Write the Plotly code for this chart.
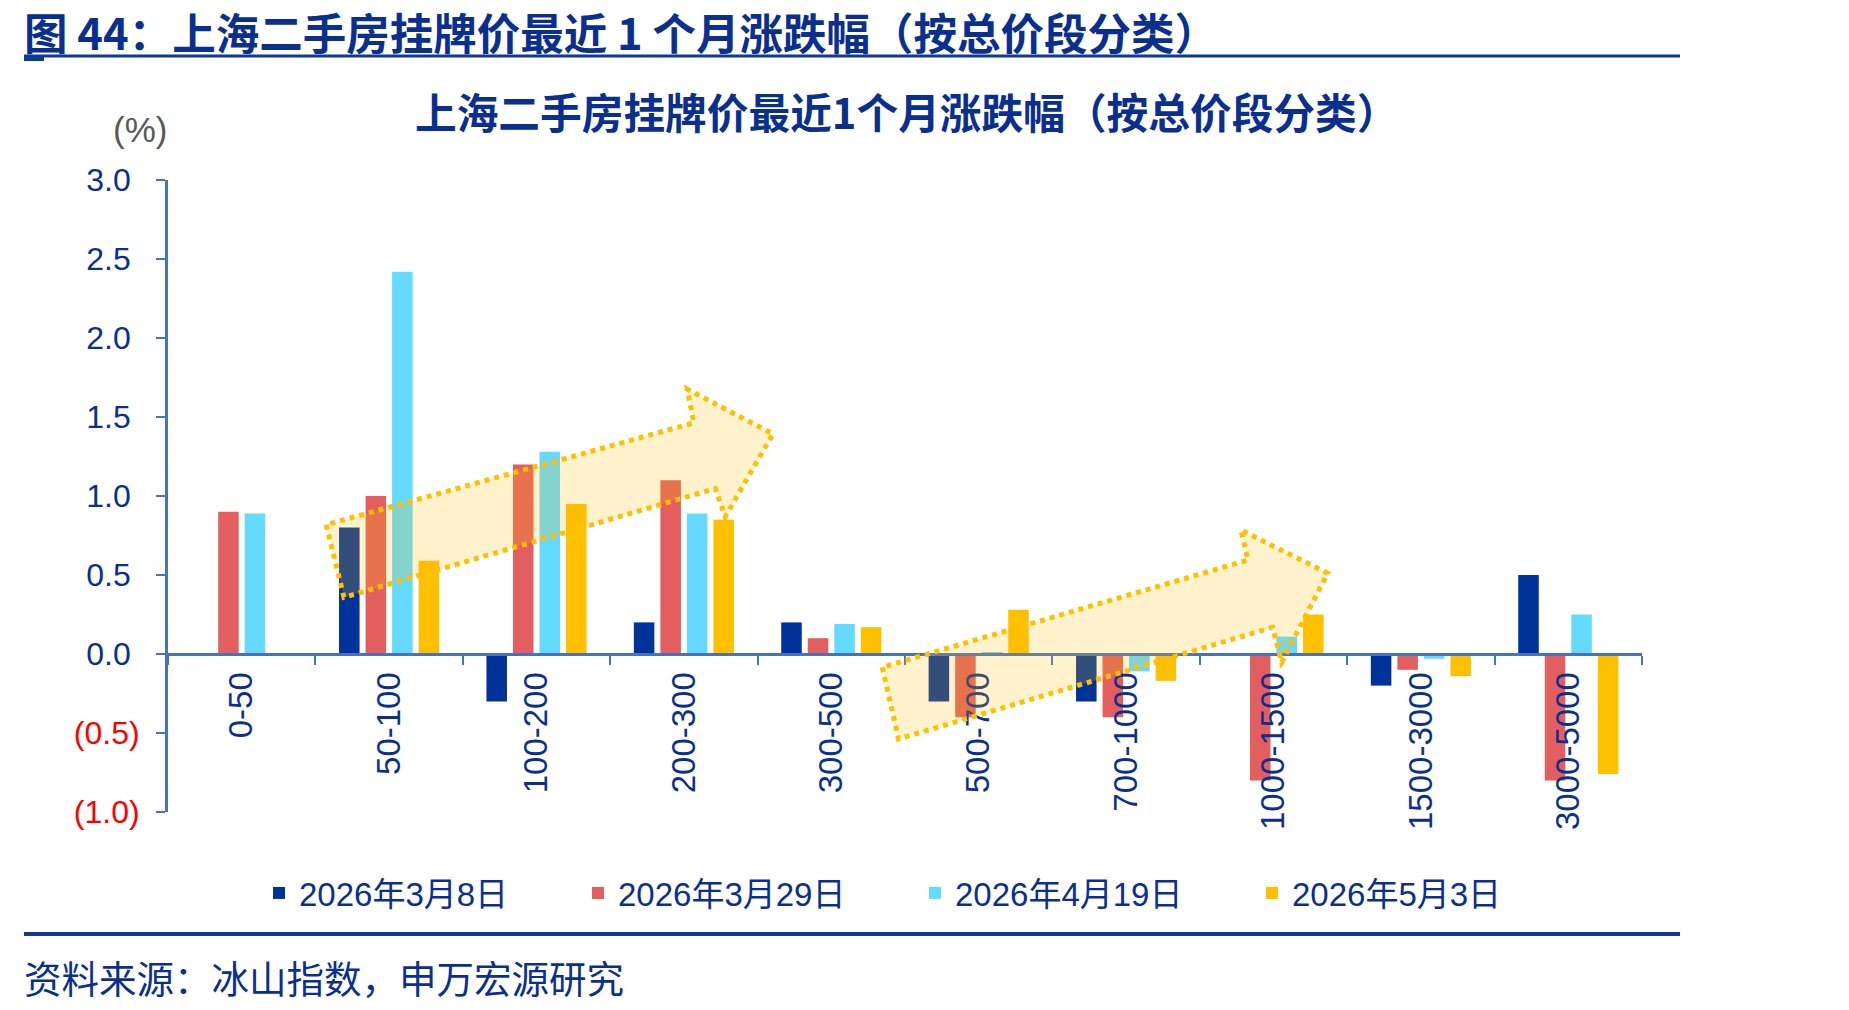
import plotly.graph_objects as go

# ---------------- data ----------------
categories = ["0-50", "50-100", "100-200", "200-300", "300-500",
              "500-700", "700-1000", "1000-1500", "1500-3000", "3000-5000"]
series_names = ["2026年3月8日", "2026年3月29日", "2026年4月19日", "2026年5月3日"]
s_mar08 = [None, 0.80, -0.30, 0.20, 0.20, -0.30, -0.30, None, -0.20, 0.50]
s_mar29 = [0.90, 1.00, 1.20, 1.10, 0.10, -0.40, -0.40, -0.80, -0.10, -0.80]
s_apr19 = [0.89, 2.42, 1.28, 0.89, 0.19, 0.01, -0.11, 0.11, -0.03, 0.25]
s_may03 = [None, 0.59, 0.95, 0.85, 0.17, 0.28, -0.17, 0.25, -0.14, -0.76]
y_tickvals = [-1.0, -0.5, 0.0, 0.5, 1.0, 1.5, 2.0, 2.5, 3.0]
y_ticklabels = ["(1.0)", "(0.5)", "0.0", "0.5", "1.0", "1.5", "2.0", "2.5", "3.0"]

title_main = "图 44：上海二手房挂牌价最近 1 个月涨跌幅（按总价段分类）"
title_chart = "上海二手房挂牌价最近1个月涨跌幅（按总价段分类）"
source_text = "资料来源：冰山指数，申万宏源研究"
unit_text = "(%)"

# ---------------- style ----------------
W, H = 1849, 1010
ML, MR, MT, MB = 168, 207, 180, 198
PW, PH = W - ML - MR, H - MT - MB
FONT = "Liberation Sans, Arial, Noto Sans CJK SC, sans-serif"
CJK = "Noto Sans CJK SC, sans-serif"
DARK = "#0A2F8F"
AXIS = "#4472C4"
colors = ["#003399", "#E35F5F", "#66D9FF", "#FFC000"]
legend_left_px = [259, 578, 915, 1252]


def px_x(p):
    return (p - ML) / PW


def px_y(p):
    return (H - MB - p) / PH


fig = go.Figure()
legend_ids = ["legend", "legend2", "legend3", "legend4"]
for name, vals, c, lid in zip(series_names, [s_mar08, s_mar29, s_apr19, s_may03], colors, legend_ids):
    fig.add_trace(go.Bar(x=categories, y=vals, name=name, legend=lid,
                         marker=dict(color=c, line=dict(width=0))))

ticktext = [
    f"<span style='color:#FF0000'>{t}</span>" if v < 0 else t + "\u00a0"
    for v, t in zip(y_tickvals, y_ticklabels)
]

# arrow decorations (category index / value coordinates)
arrow1 = [(0.573, 0.818), (0.694, 0.359), (3.213, 1.047), (3.28, 0.869),
          (3.604, 1.393), (3.023, 1.676), (3.067, 1.463)]
arrow2 = [(4.346, -0.084), (4.456, -0.538), (6.993, 0.169), (7.055, -0.053),
          (7.368, 0.511), (6.779, 0.785), (6.827, 0.595)]


def path_of(pts):
    return "M " + " L ".join(f"{x},{y}" for x, y in pts) + " Z"


shapes = []
for pts in (arrow1, arrow2):
    shapes.append(dict(type="path", xref="x", yref="y", path=path_of(pts),
                       fillcolor="rgba(255,192,0,0.2)",
                       line=dict(color="#FFC000", width=5, dash="dot"), layer="above"))

# header and footer rules
shapes.append(dict(type="line", xref="paper", yref="paper", x0=px_x(24), x1=px_x(1680),
                   y0=px_y(56), y1=px_y(56), line=dict(color="#0D3A94", width=3)))
shapes.append(dict(type="rect", xref="paper", yref="paper", x0=px_x(24), x1=px_x(44),
                   y0=px_y(57), y1=px_y(61), line=dict(width=0), fillcolor="#0D3A94"))
shapes.append(dict(type="line", xref="paper", yref="paper", x0=px_x(24), x1=px_x(1680),
                   y0=px_y(934), y1=px_y(934), line=dict(color="#0D3A94", width=4)))

annotations = [
    dict(text=title_main, xref="paper", yref="paper", x=px_x(22), y=px_y(31),
         xanchor="left", yanchor="middle", showarrow=False,
         font=dict(family=CJK, size=43.5, color=DARK, weight="bold")),
    dict(text=title_chart, xref="paper", yref="paper", x=px_x(906), y=px_y(111),
         xanchor="center", yanchor="middle", showarrow=False,
         font=dict(family=CJK, size=41.7, color=DARK, weight="bold")),
    dict(text=unit_text, xref="paper", yref="paper", x=px_x(140), y=px_y(129),
         xanchor="center", yanchor="middle", showarrow=False,
         font=dict(family=FONT, size=35, color="#595959")),
    dict(text=source_text, xref="paper", yref="paper", x=px_x(22), y=px_y(976),
         xanchor="left", yanchor="middle", showarrow=False,
         font=dict(family=CJK, size=37.5, color=DARK)),
]

legend_common = dict(orientation="h", xref="container", yref="container",
                     xanchor="left", yanchor="middle",
                     font=dict(family=FONT, size=33, color=DARK),
                     bgcolor="rgba(0,0,0,0)")
legends = {}
for lid, lx in zip(legend_ids, legend_left_px):
    legends[lid] = dict(legend_common, x=lx / W, y=1 - 893 / H)

fig.update_layout(
    width=W, height=H,
    margin=dict(l=ML, r=MR, t=MT, b=MB, autoexpand=False),
    paper_bgcolor="white", plot_bgcolor="white",
    barmode="group", bargap=0.28, bargroupgap=0.226,
    font=dict(family=FONT, color=DARK, size=30),
    showlegend=True,
    shapes=shapes,
    annotations=annotations,
    xaxis=dict(type="category", range=[-0.5, 9.5], anchor="free", position=0.25,
               showline=True, linecolor=AXIS, linewidth=3,
               ticks="outside", tickson="boundaries", ticklen=9, tickwidth=2, tickcolor=AXIS,
               tickangle=-90, ticklabelstandoff=3,
               tickfont=dict(family=FONT, size=33, color=DARK),
               showgrid=False, zeroline=False, fixedrange=True),
    yaxis=dict(range=[-1.0, 3.0], tickvals=y_tickvals, ticktext=ticktext,
               showline=True, linecolor=AXIS, linewidth=3,
               ticks="outside", ticklen=9, tickwidth=2, tickcolor=AXIS,
               ticklabelstandoff=10,
               tickfont=dict(family=FONT, size=32, color=DARK),
               showgrid=False, zeroline=False, fixedrange=True),
    **legends,
)

fig.write_html("out.html")
